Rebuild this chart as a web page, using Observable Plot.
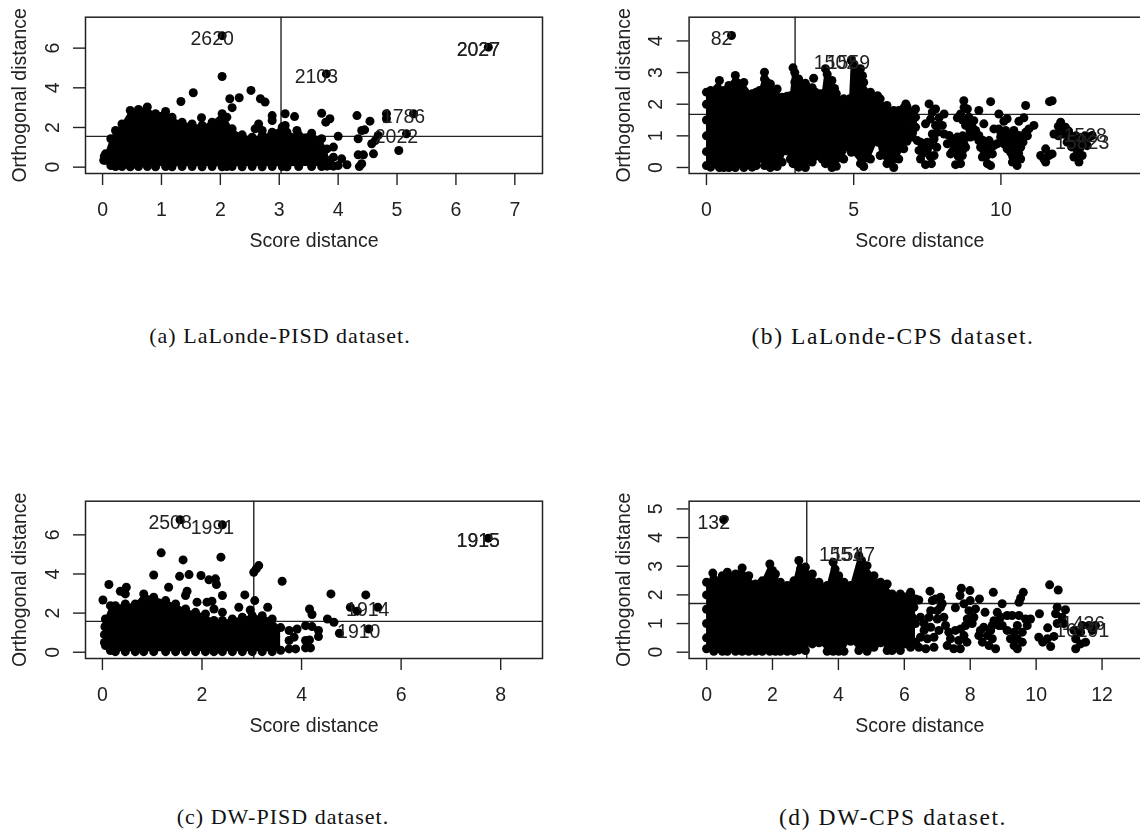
<!DOCTYPE html>
<html><head><meta charset="utf-8">
<script src="https://cdn.jsdelivr.net/npm/d3@7"></script>
<script src="https://cdn.jsdelivr.net/npm/@observablehq/plot@0.6"></script>
<style>
html,body{margin:0;padding:0;background:#fff;width:1140px;height:834px;overflow:hidden}
.p{position:absolute;filter:blur(.4px)}
.c{position:absolute;width:500px;text-align:center;font-family:"Liberation Serif",serif;font-size:22px;color:#111;line-height:20px;letter-spacing:1px;white-space:nowrap}
.c.wide{font-size:23.5px;letter-spacing:1.6px}
svg{background:transparent}
</style></head><body>
<script>
// (a) LaLonde-PISD
const aBlobX=[.05,.14,.22,.33,.47,.61,.76,.9,1.07,1.18,1.35,1.52,1.69,1.86,2.03,2.11,2.2,2.37,2.54,2.71,2.88,3.05,3.13,3.33,3.55,3.72,3.81,3.86];
const aBlobTop=[.67,1.43,1.85,2.18,2.86,2.91,3.03,2.69,2.81,2.52,2.27,2.18,2.1,2.27,2.69,2.52,1.93,1.63,1.51,1.6,1.76,2.02,1.76,1.63,1.71,1.43,.92,.34];
const aBlobBottom=[.35,.08,.03,.03,.02,.03,.03,.02,.03,.02,.03,.03,.02,.03,.02,.03,.03,.02,.03,.02,.03,.03,.02,.03,.03,.03,.05,.1];
const aDots=[[2.03,6.63],[6.55,6.05],[3.8,4.7],[2.03,4.57],[3.92,1.01],[3.92,.5],[3.92,.05],[4.06,.42],[4.15,.12],[4,.08],[4.34,.62],[4.43,.62],[4.4,.17],[4.36,.03],[4.6,.67],[4.34,1.43],[4.45,1.88],[4.4,1.85],[4.57,1.18],[4.63,1.34],[4.68,1.6],[4,1.56],[4.32,2.6],[4.54,2.32],[4.82,2.69],[4.82,2.44],[5.28,2.69],[5.16,1.68],[5.03,.84],[3.72,2.72],[3.86,2.44],[3.79,2.27],[3.1,2.69],[3.26,2.55],[2.88,2.6],[2.88,2.35],[3.1,2.1],[3.05,1.93],[3.3,1.85],[2.68,3.45],[2.76,3.28],[2.52,3.87],[2.32,3.5],[2.16,3.45],[2.2,3],[1.68,2.49],[1.33,3.31],[1.54,3.75],[2.65,2.18],[2.59,1.93],[2.71,1.85],[.02,.35],[.03,.55]];
const aLabels=[[2.03,6.63,"2620"],[6.55,6.05,"2027"],[6.55,6.05,"2027"],[3.8,4.7,"2103"],[5.28,2.69,"1786"],[5.16,1.68,"2022"]];
const aCut=[3.03,1.55];
const aXTicks=[0,1,2,3,4,5,6,7], aYTicks=[0,2,4,6];

// (b) LaLonde-CPS
const bBlobX=[0,.14,.44,.59,.76,.98,1.27,1.55,1.69,1.8,1.97,2.17,2.4,2.57,2.74,2.85,2.94,3.13,3.36,3.59,3.7,3.81,3.93,4.04,4.26,4.41,4.66,4.86,4.92,5.23,5.34,5.57,5.81,5.9,6.13,6.36,6.53,6.7,6.81];
const bBlobTop=[2.38,2.43,2.75,2.43,2.59,2.91,2.69,2.33,2.38,2.43,3.01,2.64,2.48,2.22,2.25,2.27,3.15,2.8,2.66,2.52,2.38,2.33,2.33,3.12,2.75,2.33,2.17,2.17,3.38,3.12,2.69,2.38,2.27,2.17,1.96,1.8,1.8,1.88,1.92];
const bBlobBottom=[.06,.01,0,0,0,0,0,.01,.06,.28,.06,0,.03,.17,.52,.27,.12,.01,0,.17,.35,.52,.27,.12,0,.04,.27,.64,.48,.12,.03,.27,.8,.38,.12,0,.27,.59,.83];
const bDots=[[.85,4.17],[3.64,2.82],[0,.5],[0,1],[0,1.5],[0,2],[1.97,2.8],[2.05,2.7],[2.1,2.5],[3,3],[3,2.7],[3.05,2.5],[4.1,2.95],[4.15,2.6],[4.25,2.4],[4.35,2.5],[5,3.25],[5.05,2.95],[5.1,2.7],[5.15,2.4],[5.3,2.9],[6.77,2.01],[7.1,1.85],[6.93,1.69],[7.1,1.59],[6.88,1.38],[7.1,1.27],[6.93,1.17],[6.77,.96],[6.99,.96],[7.16,.85],[7.22,.54],[7.27,.27],[7.44,.09],[7.64,.12],[7.73,.38],[7.82,.64],[7.5,.54],[7.5,.8],[7.73,.9],[7.27,.8],[7.56,2.01],[7.78,1.85],[8.07,1.69],[7.67,1.75],[7.9,1.57],[8.01,1.33],[7.78,1.33],[7.61,1.53],[7.44,1.38],[7.84,1.11],[8.07,1.06],[7.67,1.06],[8.18,.75],[8.29,.43],[8.46,.09],[8.63,.12],[8.8,.64],[8.69,.38],[8.46,.64],[8.52,.96],[8.24,1.01],[8.86,.96],[8.74,.75],[8.35,.75],[8.74,2.11],[8.86,1.85],[9.25,1.8],[8.63,1.69],[8.52,1.57],[8.91,1.59],[9.08,1.48],[9.03,1.27],[8.8,1.33],[9.14,1.17],[9.25,1.01],[8.97,.96],[9.31,.64],[9.37,.33],[9.54,.12],[9.65,.06],[9.71,.43],[9.42,.54],[9.59,.69],[9.25,.85],[9.76,.69],[9.65,2.08],[9.93,1.69],[9.42,1.38],[10.84,1.96],[11.74,2.11],[11.65,2.08],[10.78,1.57],[10.61,1.46],[10.1,1.46],[10.21,1.54],[9.76,1.22],[9.93,1.22],[10.16,1.17],[10.33,1.06],[9.99,.96],[9.87,.75],[10.1,.75],[10.21,.59],[10.44,1.17],[10.61,1.01],[10.84,1.11],[10.95,1.22],[11.12,1.33],[10.5,.75],[10.67,.64],[10.78,.96],[10.39,.17],[10.55,.06],[10.67,.27],[10.5,.43],[10.33,.48],[11.35,.38],[11.52,.59],[11.74,.43],[11.46,.27],[11.52,.17],[11.63,.38],[12.03,1.43],[12.19,1.27],[11.8,1.06],[12.03,1.17],[12.36,1.01],[12.25,.8],[12.53,.75],[12.59,.54],[12.76,.38],[12.65,.17],[12.48,.33],[12.7,.64],[12.99,.96],[13.1,1.01],[12.87,.8],[12.76,.9],[12.93,.69],[7.35,.45],[7.6,.35],[7.6,.7],[7.35,.65],[7,1.1],[6.85,1.15],[6.85,1.6],[7,1.75],[7,1.45],[6.8,1.7],[8.35,.5],[8.55,.35],[8.55,.55],[8.7,.55],[8.6,.8],[8.4,.9],[8.7,1],[8.7,1.5],[8.75,1.9],[8.95,1.35],[8.95,1.15],[9.1,1],[9.5,.35],[9.6,.5],[9.45,.7],[9.4,.85],[9.6,.85],[10,1.1],[10.05,.9],[10.15,.95],[10.25,.8],[10.4,.95],[10.55,.85],[10.45,.6],[10.6,.45],[10.4,.35],[10.5,.2],[10.75,.8],[10.9,1],[11.95,1.3],[11.95,1],[12.15,1.05],[12.3,1.15],[12.4,.85],[12.55,1],[12.4,.65],[12.55,.35],[12.65,.9],[12.85,1]];
const bLabels=[[.85,4.17,"82"],[4.72,3.4,"1502"],[5.16,3.4,"1559"],[13.2,1.1,"1528"],[13.1,.89,"15823"]];
const bCut=[3.01,1.68];
const bXTicks=[0,5,10], bYTicks=[0,1,2,3,4];

// (c) DW-PISD
const cBlobX=[.06,.16,.26,.46,.66,.83,1.03,1.27,1.47,1.67,1.87,2.07,2.24,2.41,2.61,2.81,3.01,3.21,3.41,3.58];
const cBlobTop=[1.7,2.38,2.38,2.47,2.47,2.98,2.81,2.64,2.47,2.21,2.04,1.96,1.62,1.62,1.7,1.79,1.87,1.87,1.7,1.26];
const cBlobBottom=[.34,.09,.03,.03,.03,.03,.03,.03,.03,.03,.03,.03,.03,.03,.03,.03,.03,.03,.03,.1];
const cDots=[[1.56,6.77],[2.41,6.51],[7.75,5.83],[1.18,5.08],[1.62,4.72],[2.38,4.86],[1.03,3.95],[1.55,3.88],[1.74,3.97],[1.98,3.92],[2.14,3.7],[2.27,3.75],[2.29,3.46],[1.33,3.32],[.13,3.46],[.01,2.67],[.36,3.12],[.48,3.32],[.46,2.98],[1.7,3.12],[1.67,2.9],[2.41,2.9],[1.9,2.56],[2.1,2.56],[2.2,2.61],[2.24,2.21],[2.41,2.04],[2.86,2.93],[2.74,2.3],[3.06,2.64],[2.97,2.16],[3.32,2.3],[3.14,4.43],[3.09,4.26],[3.04,4.09],[3.61,3.63],[4.16,2.21],[4.21,1.93],[4.59,2.98],[5.29,2.93],[4.98,2.3],[5.12,2.1],[5.53,2.3],[4.52,1.7],[4.65,1.53],[4.76,.97],[5.35,1.19],[4.08,1.36],[4.21,1.31],[4.34,1.11],[4.34,.8],[4.08,.6],[4.16,.63],[4.18,.22],[4.08,.22],[3.91,1.19],[3.75,1.11],[3.85,.77],[3.88,.17],[3.75,.17],[3.75,.6],[.04,.5],[.04,.9],[.05,1.3]];
const cLabels=[[1.56,6.77,"2508"],[2.41,6.51,"1991"],[7.75,5.83,"1915"],[7.75,5.83,"1915"],[5.53,2.3,"1914"],[5.35,1.19,"1910"]];
const cCut=[3.04,1.58];
const cXTicks=[0,2,4,6,8], cYTicks=[0,2,4,6];

// (d) DW-CPS
const dBlobX=[0,.22,.48,.63,.88,1.08,1.28,1.49,1.69,1.92,2.09,2.24,2.45,2.65,2.8,3,3.21,3.41,3.66,3.84,4.01,4.17,4.37,4.62,4.87,5.08,5.28,5.48,5.63,5.88,6.19,6.34];
const dBlobTop=[2.44,2.56,2.67,2.79,2.73,2.94,2.67,2.38,2.49,3.08,2.73,2.44,2.33,2.49,3.2,2.97,2.73,2.44,2.33,3.14,2.67,2.44,2.33,3.37,3.02,2.67,2.44,2.38,2.03,2.03,2.09,1.86];
const dBlobBottom=[.12,.03,.03,.03,.03,.03,.03,.03,.03,.03,.03,.03,.03,.03,.08,.06,.29,.33,.03,.03,.03,.03,.38,.06,.03,.17,.33,.06,.06,.06,.17,.35];
const dDots=[[.52,4.63],[.19,2.76],[0,.5],[0,1],[0,1.5],[0,2],[2,2.85],[2,2.55],[2.85,2.9],[2.9,2.7],[3.9,2.9],[3.95,2.6],[3.85,2.6],[4.7,3.2],[4.72,2.9],[4.7,2.6],[4.85,2.7],[6.19,2.03],[6.44,1.82],[6.29,1.57],[6.09,1.45],[6.24,1.22],[6.34,1],[6.09,.29],[6.44,.17],[6.65,.12],[6.9,.17],[6.49,.52],[6.7,.47],[6.9,.52],[7.05,.76],[6.6,.76],[6.8,.87],[6.6,1],[6.49,1.22],[6.75,1.22],[7,1.16],[7.2,1.22],[7.25,.93],[7,1.45],[6.8,1.45],[7.1,1.57],[6.85,1.8],[6.78,2.13],[7.1,1.92],[7.15,1.69],[6.95,1.86],[7.3,.23],[7.5,.12],[7.7,.12],[7.9,.35],[7.4,.47],[7.65,.41],[7.81,.58],[7.35,.7],[7.55,.76],[7.71,.81],[7.73,2.23],[7.99,2.15],[8.28,1.86],[7.69,1.98],[7.55,1.55],[7.81,1.69],[8,1.8],[8.16,1.51],[7.96,1.45],[8.11,1.22],[7.91,1.16],[8.06,1],[7.86,.93],[8.45,1.39],[8.7,2.09],[8.97,1.69],[9.61,2.09],[9.53,1.89],[9.48,1.74],[8.31,.76],[8.41,.87],[8.26,.58],[8.37,.35],[8.57,.23],[8.77,.12],[8.52,.58],[8.67,.47],[8.62,.76],[8.82,1.39],[8.72,1.1],[8.92,1.22],[8.87,.93],[8.67,.93],[9.12,1.28],[9.27,1.28],[9.48,1.28],[9.68,1.16],[9.83,1.16],[9.73,.93],[9.58,.7],[9.33,.7],[9.12,.76],[9.43,.93],[9.22,.47],[9.33,.23],[9.43,.12],[9.58,.35],[9.43,.47],[8.97,.93],[10.1,1.34],[10.41,2.35],[10.67,2.17],[10.64,1.57],[10.89,1.48],[10.59,1.34],[10.79,1.22],[10.64,1],[10.84,1],[10.35,.85],[10.08,.52],[10.34,.47],[10.54,.55],[10.2,.35],[10.44,.2],[11.2,.12],[11.35,.29],[11.5,.35],[11.2,.47],[11.15,.76],[11.35,.7],[11.4,.93],[11.6,.93],[11.8,.93],[11.7,.76]];
const dLabels=[[.52,4.63,"132"],[4.37,3.5,"1551"],[4.76,3.5,"1547"],[11.74,1.09,"1436"],[11.7,.84,"16191"]];
const dCut=[3.04,1.7];
const dXTicks=[0,2,4,6,8,10,12], dYTicks=[0,1,2,3,4,5];

const xName="Score distance", yName="Orthogonal distance";
const captions=["(a) LaLonde-PISD dataset.","(b) LaLonde-CPS dataset.","(c) DW-PISD dataset.","(d) DW-CPS dataset."];

const ink="#222", FS=19.5, R=4.5;
function panel(o){
  const rows=o.bx.map((x,i)=>({x,top:o.bt[i],bot:o.bb[i]}));
  const chart=Plot.plot({
    width:o.w,height:260,
    marginLeft:o.ml,marginRight:o.mr,marginTop:o.mt,marginBottom:o.mb,
    style:{fontFamily:"'Liberation Sans',Arial,sans-serif",background:"transparent",overflow:"visible"},
    x:{domain:o.xd,label:null},
    y:{domain:o.yd,label:null},
    marks:[
      Plot.ruleX([o.cut[0]],{stroke:"#222",strokeWidth:1.4}),
      Plot.ruleY([o.cut[1]],{stroke:"#222",strokeWidth:1.4}),
      Plot.areaY(rows,{x:"x",y1:"bot",y2:"top",fill:"black"}),
      Plot.dot(rows,{x:"x",y:"top",r:R,fill:"black"}),
      Plot.dot(rows,{x:"x",y:"bot",r:R,fill:"black"}),
      Plot.dot(o.dots,{x:d=>d[0],y:d=>d[1],r:R,fill:"black"}),
      Plot.text(o.labels,{x:d=>d[0],y:d=>d[1],text:d=>d[2],dx:-10,dy:3,fontSize:19.5,fill:ink}),
      Plot.frame({stroke:"#222",strokeWidth:1.5}),
      Plot.axisX({ticks:o.xt,tickSize:12,tickPadding:17,fontSize:FS,stroke:"#222",color:ink,strokeWidth:1.4,label:xName,labelAnchor:"center",labelArrow:"none",labelOffset:73,tickFormat:d=>String(d)}),
      Plot.axisY({ticks:o.yt,tickSize:12,tickPadding:15,tickRotate:-90,fontSize:FS,stroke:"#222",color:ink,strokeWidth:1.4,label:yName,labelAnchor:"center",labelArrow:"none",labelOffset:73,tickFormat:d=>String(d)})
    ]
  });
  chart.classList.add("p");
  chart.style.left=o.left+"px"; chart.style.top=o.top+"px";
  document.body.appendChild(chart);
}
panel({left:0,top:0,w:560,ml:85,mr:18,mt:16.7,mb:87,xd:[-.29,7.47],yd:[-.32,7.56],bx:aBlobX,bt:aBlobTop,bb:aBlobBottom,dots:aDots,labels:aLabels,cut:aCut,xt:aXTicks,yt:aYTicks});
panel({left:590,top:0,w:570,ml:98.6,mr:10,mt:16.7,mb:87,xd:[-.59,15.08],yd:[-.19,4.75],bx:bBlobX,bt:bBlobTop,bb:bBlobBottom,dots:bDots,labels:bLabels,cut:bCut,xt:bXTicks,yt:bYTicks});
panel({left:0,top:480,w:560,ml:85,mr:18,mt:20.7,mb:82,xd:[-.34,8.84],yd:[-.32,7.72],bx:cBlobX,bt:cBlobTop,bb:cBlobBottom,dots:cDots,labels:cLabels,cut:cCut,xt:cXTicks,yt:cYTicks});
panel({left:590,top:480,w:570,ml:98.6,mr:10,mt:20.7,mb:82,xd:[-.53,13.47],yd:[-.22,5.27],bx:dBlobX,bt:dBlobTop,bb:dBlobBottom,dots:dDots,labels:dLabels,cut:dCut,xt:dXTicks,yt:dYTicks});
[[30,326,""],[643,326,"wide"],[33,807,""],[643,807,"wide"]].forEach(([l,t,k],i)=>{
  const c=document.createElement("div");c.className="c "+k;c.textContent=captions[i];
  c.style.left=l+"px";c.style.top=t+"px";document.body.appendChild(c);
});
</script>
</body></html>
